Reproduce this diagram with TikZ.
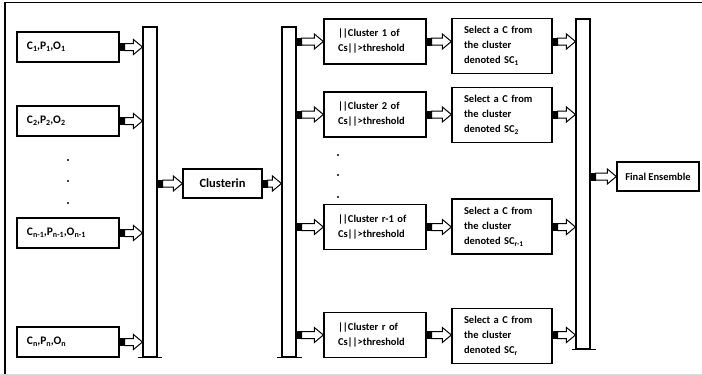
\documentclass[tikz,border=0pt]{standalone}
\usepackage{fontspec}
\setmainfont{Carlito}
\usetikzlibrary{calc}

% lowered index at a fixed small size
\newcommand\idx[1]{\raisebox{-0.3ex}{\fontsize{8}{8}\selectfont #1}}

\tikzset{
  txt/.style={font=\bfseries\fontsize{10.5}{15}\selectfont},
  box/.style={txt, draw, line width=1.3pt, inner ysep=0pt, align=left},
  inbox/.style={box, font=\bfseries\fontsize{11.5}{14}\selectfont, text width=82pt, inner xsep=10pt, minimum height=30pt},
  clbox/.style={box, text width=74pt, inner xsep=14pt, minimum height=45pt},
  selbox/.style={box, text width=76pt, inner xsep=12pt, minimum height=55pt},
  midbox/.style={box, align=center, inner xsep=0pt, minimum height=29pt},
  bar/.style={draw, line width=1.1pt, minimum width=14pt, minimum height=330pt, inner sep=0pt},
  foot/.style={line width=1.3pt},
  blk/.style={fill=black, minimum width=5pt, minimum height=8pt, inner sep=0pt, anchor=west},
  dot/.style={circle, fill=black, inner sep=0pt, minimum size=2.4pt},
  % hollow block arrow with a small black stub at its tail
  fat/.style={draw, fill=white, line width=1pt, line join=miter,
    to path={
      ($(\tikztostart)+(5pt,-3.5pt)$) -- ($(\tikztotarget)+(-9pt,-3.5pt)$)
      -- ($(\tikztotarget)+(-9pt,-7.5pt)$) -- (\tikztotarget)
      -- ($(\tikztotarget)+(-9pt,7.5pt)$) -- ($(\tikztotarget)+(-9pt,3.5pt)$)
      -- ($(\tikztostart)+(5pt,3.5pt)$) -- cycle
      (\tikztostart) node[blk] {}
    }},
}

\begin{document}
\begin{tikzpicture}[x=1pt,y=-1pt]
\useasboundingbox (0,0) rectangle (702,375);

% frame
\draw[line width=1.5pt] (5,375) -- (5,2.5) -- (702,2.5);
\draw[line width=1pt, black!15] (0,374) -- (702,374);

% inputs
\node[inbox] (c1) at (68,47)  {C\idx{1},P\idx{1},O\idx{1}};
\node[inbox] (c2) at (68,121) {C\idx{2},P\idx{2},O\idx{2}};
\node[inbox] (c3) at (68,233) {C\idx{n-1},P\idx{n-1},O\idx{n-1}};
\node[inbox] (c4) at (68,342) {C\idx{n},P\idx{n},O\idx{n}};
\node[dot] (d1) at (68,160) {};
\node[dot] (d2) at (68,181) {};
\node[dot] (d3) at (68,203) {};

% collecting bars
\node[bar] (bar1) at (150,192) {};
\node[bar] (bar2) at (289,192) {};
\node[bar] (bar3) at (583,184) {};
\draw[foot] ($(bar1.south)+(-12,0)$) -- ($(bar1.south)+(12,0)$);
\draw[foot] ($(bar2.south)+(-12,0)$) -- ($(bar2.south)+(13,0)$);
\draw[foot] ($(bar3.south)+(-11,0)$) -- ($(bar3.south)+(13,0)$);

% clustering
\node[midbox, font=\bfseries\fontsize{12.5}{14}\selectfont, minimum width=79pt] (clu) at (222.5,183.5) {Clusterin};

% clusters
\node[clbox] (k1) at (375,41.5) {||Cluster 1 of\\Cs||>threshold};
\node[clbox] (k2) at (375,114.5) {||Cluster 2 of\\Cs||>threshold};
\node[clbox] (k3) at (375,227) {||Cluster r-1 of\\Cs||>threshold};
\node[clbox] (k4) at (375,335) {||Cluster r of\\Cs||>threshold};
\node[dot] (e1) at (338,155) {};
\node[dot] (e2) at (338,175) {};
\node[dot] (e3) at (338,197) {};

% selections
\node[selbox] (s1) at (502,46)    {Select a C from\\the cluster\\denoted SC\textsubscript{1}};
\node[selbox] (s2) at (502,115)   {Select a C from\\the cluster\\denoted SC\textsubscript{2}};
\node[selbox] (s3) at (502,226.5) {Select a C from\\the cluster\\denoted SC\textsubscript{r-1}};
\node[selbox] (s4) at (502,336)   {Select a C from\\the cluster\\denoted SC\textsubscript{r}};

% result
\node[midbox, minimum width=82pt] (fin) at (658,176.5) {Final Ensemble};

% connectors
\foreach \n in {c1,c2,c3,c4}
  \draw[fat] (\n.east) to (bar1.west |- \n.east);
\draw[fat] (bar1.east |- clu.west) to (clu.west);
\draw[fat] (clu.east) to (bar2.west |- clu.east);
\foreach \k/\s in {k1/s1,k2/s2,k3/s3,k4/s4} {
  \draw[fat] (bar2.east |- \k.west) to (\k.west);
  \draw[fat] (\k.east) to (\s.west |- \k.east);
  \draw[fat] (\s.east |- \k.east) to (bar3.west |- \k.east);
}
\draw[fat] (bar3.east |- fin.west) to (fin.west);
\end{tikzpicture}
\end{document}
